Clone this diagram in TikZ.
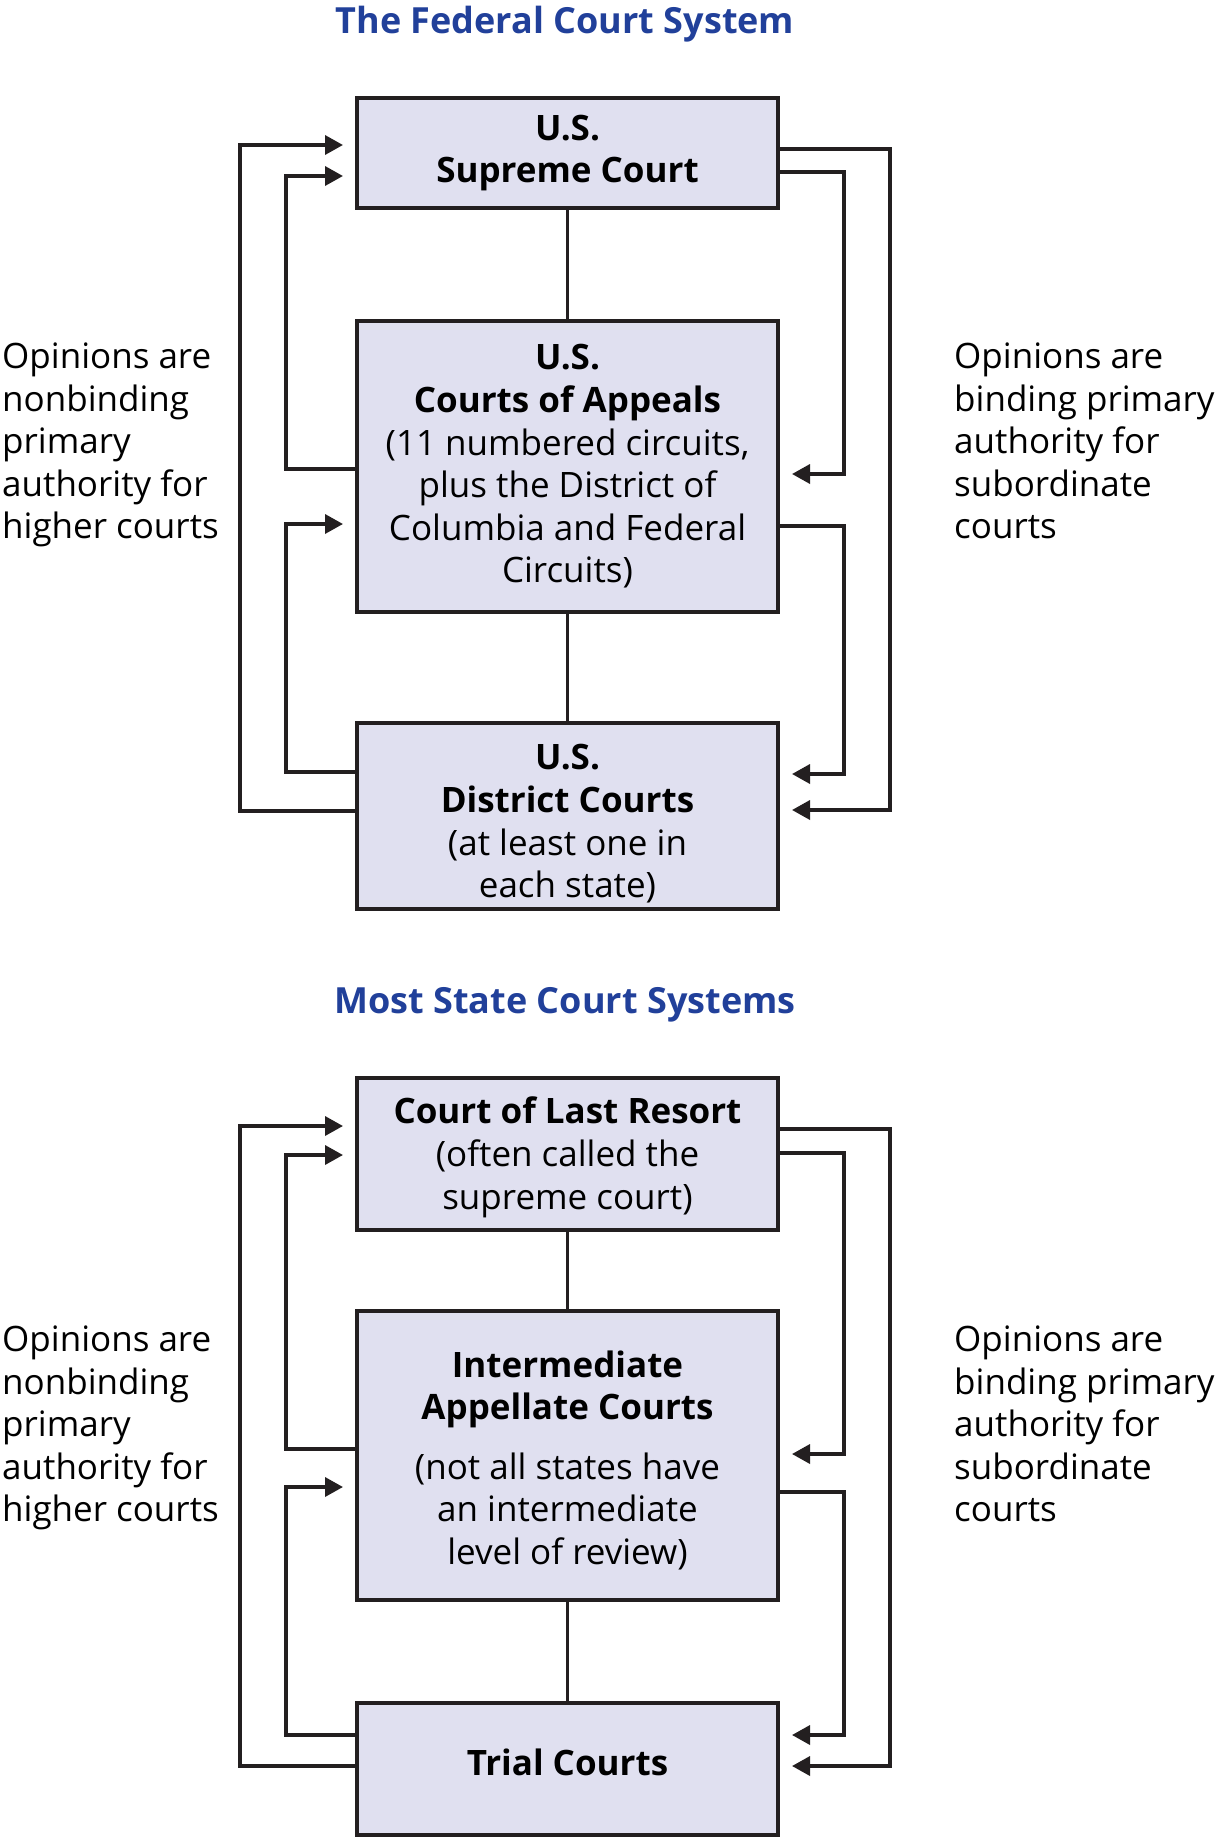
\documentclass[tikz,border=0pt]{standalone}
\usepackage{fontspec}
\setmainfont{Open Sans}
\usetikzlibrary{arrows.meta}
\definecolor{courtblue}{RGB}{33,64,154}
\definecolor{courtfill}{RGB}{224,224,240}
\definecolor{courtline}{RGB}{35,31,32}
\newcommand{\lift}[1]{\rule{0pt}{#1}}% taller first line, pushes the text down
\tikzset{
  court/.style={draw=courtline,line width=4pt,fill=courtfill,minimum width=421pt,
    align=center,inner sep=0pt,font=\fontsize{35}{42.6}\selectfont},
  note/.style={anchor=west,align=left,inner sep=0pt,font=\fontsize{35}{42.6}\selectfont},
  heading/.style={text=courtblue,font=\bfseries\fontsize{36}{40}\selectfont},
  link/.style={draw=courtline,line width=3.5pt},
  arr/.style={link,-{Triangle[length=18pt,width=19pt]},shorten >=12pt}
}
\begin{document}
\begin{tikzpicture}[x=1pt,y=-1pt]
\useasboundingbox (0,0) rectangle (1230,1839);
% federal courts
\node[heading] (T1) at (565,24) {The Federal Court System};
\node[court,minimum height=110pt] (C1) at (567.5,153) {\textbf{U.S.}\\\textbf{Supreme Court}};
\node[court,minimum height=291pt] (C2) at (567.5,466.5) {\textbf{U.S.}\\\textbf{Courts of Appeals}\\(11 numbered circuits,\\plus the District of\\Columbia and Federal\\Circuits)};
\node[court,minimum height=186pt] (C3) at (567.5,816) {\lift{41pt}\textbf{U.S.}\\\textbf{District Courts}\\(at least one in\\each state)};
\node[note] (L1) at (2,445) {Opinions are\\nonbinding\\primary\\authority for\\higher courts};
\node[note] (R1) at (954,441) {Opinions are\\binding primary\\authority for\\subordinate\\courts};
% state courts
\node[heading] (T2) at (565,1005) {Most State Court Systems};
\node[court,minimum height=152pt] (C4) at (567.5,1154) {\lift{33.5pt}\textbf{Court of Last Resort}\\(often called the\\supreme court)};
\node[court,minimum height=289pt] (C5) at (567.5,1455.5) {\lift{36pt}\textbf{Intermediate}\\\textbf{Appellate Courts}\\[17pt](not all states have\\an intermediate\\level of review)};
\node[court,minimum height=132pt,text depth=14pt] (C6) at (567.5,1769) {\textbf{Trial Courts}};
\node[note] (L2) at (2,1428) {Opinions are\\nonbinding\\primary\\authority for\\higher courts};
\node[note] (R2) at (954,1424) {Opinions are\\binding primary\\authority for\\subordinate\\courts};
%%%%%%%%%%%%%%%%%%%%%%%%%%%%%%
\draw[link] (C1.south) -- (C2.north);
\draw[link] (C2.south) -- (C3.north);
\draw[arr] (C3.west |- 0,811) -- ++(-115,0) |- (C1.west |- 0,145);% up, outer
\draw[arr] (C2.west |- 0,469) -- ++(-69,0) |- (C1.west |- 0,176);
\draw[arr] (C3.west |- 0,772) -- ++(-69,0) |- (C2.west |- 0,524);
\draw[arr] (C1.east |- 0,149) -- ++(110,0) |- (C3.east |- 0,810);% down, outer
\draw[arr] (C1.east |- 0,172) -- ++(64,0) |- (C2.east |- 0,474);
\draw[arr] (C2.east |- 0,526) -- ++(64,0) |- (C3.east |- 0,774);
%%%%%%%%%%%%%%%%%%%%%%%%%%%%%%
\draw[link] (C4.south) -- (C5.north);
\draw[link] (C5.south) -- (C6.north);
\draw[arr] (C6.west |- 0,1766) -- ++(-115,0) |- (C4.west |- 0,1126);
\draw[arr] (C5.west |- 0,1449) -- ++(-69,0) |- (C4.west |- 0,1155);
\draw[arr] (C6.west |- 0,1735) -- ++(-69,0) |- (C5.west |- 0,1487);
\draw[arr] (C4.east |- 0,1129) -- ++(110,0) |- (C6.east |- 0,1766);
\draw[arr] (C4.east |- 0,1153) -- ++(64,0) |- (C5.east |- 0,1454);
\draw[arr] (C5.east |- 0,1492) -- ++(64,0) |- (C6.east |- 0,1735);
\end{tikzpicture}
\end{document}
